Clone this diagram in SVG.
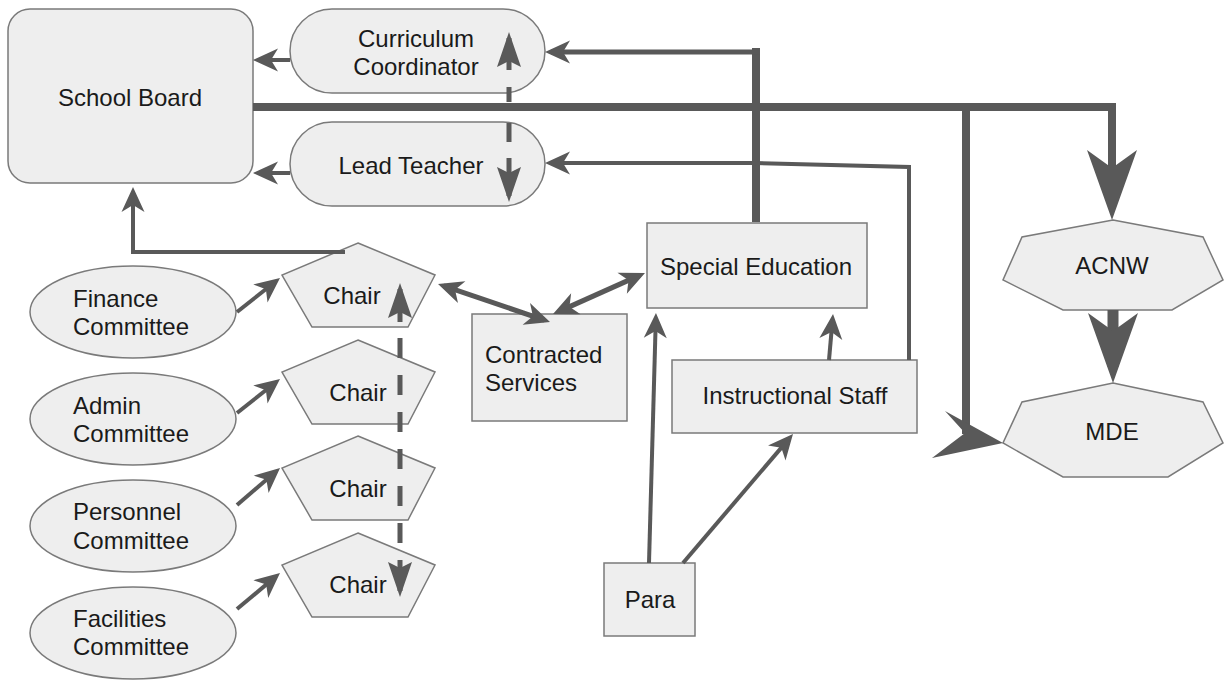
<svg xmlns="http://www.w3.org/2000/svg" width="1225" height="682" viewBox="0 0 1225 682">
<style>
.n{fill:#eeeeee;stroke:#7a7a7a;stroke-width:1.5}
.t{font-family:"Liberation Sans",Arial,sans-serif;font-size:24px;fill:#1a1a1a}
.c{text-anchor:middle}
.l{fill:none;stroke:#595959;stroke-linejoin:miter}
.w4{stroke-width:4}
.w5{stroke-width:5}
.w8{stroke-width:8}
</style>
<defs>
<marker id="a" markerUnits="userSpaceOnUse" viewBox="-20 -12 28 24" markerWidth="28" markerHeight="24" refX="0" refY="0" orient="auto-start-reverse" overflow="visible">
<path d="M6,0 L-19,-11.5 L-12,0 L-19,11.5 Z" fill="#595959"/>
</marker>
<marker id="c" markerUnits="userSpaceOnUse" viewBox="-32 -13 40 26" markerWidth="40" markerHeight="26" refX="0" refY="0" orient="auto-start-reverse" overflow="visible">
<path d="M6,0 L-29,-12 L-23,0 L-29,12 Z" fill="#595959"/>
</marker>
<marker id="b" markerUnits="userSpaceOnUse" viewBox="-60 -26 80 52" markerWidth="80" markerHeight="52" refX="0" refY="0" orient="auto" overflow="visible">
<path d="M16,0 L-54,-25 L-36,0 L-54,25 Z" fill="#595959"/>
</marker>
</defs>

<g id="school-board">
<rect class="n" x="8" y="9" width="245" height="174" rx="22"/>
<text class="t c" x="130" y="106">School Board</text>
</g>
<g id="curriculum-coordinator">
<rect class="n" x="290" y="9" width="255" height="84" rx="42"/>
<text class="t c" x="416" y="47">Curriculum</text>
<text class="t c" x="416" y="75">Coordinator</text>
</g>
<g id="lead-teacher">
<rect class="n" x="290" y="122" width="255" height="84" rx="42"/>
<text class="t c" x="411" y="174">Lead Teacher</text>
</g>

<g id="finance-committee">
<ellipse class="n" cx="133" cy="312" rx="103" ry="46"/>
<text class="t" x="73" y="307">Finance</text>
<text class="t" x="73" y="335">Committee</text>
</g>
<g id="admin-committee">
<ellipse class="n" cx="133" cy="419" rx="103" ry="46"/>
<text class="t" x="73" y="414">Admin</text>
<text class="t" x="73" y="442">Committee</text>
</g>
<g id="personnel-committee">
<ellipse class="n" cx="133" cy="526" rx="103" ry="46"/>
<text class="t" x="73" y="520">Personnel</text>
<text class="t" x="73" y="549">Committee</text>
</g>
<g id="facilities-committee">
<ellipse class="n" cx="133" cy="633" rx="103" ry="46"/>
<text class="t" x="73" y="627">Facilities</text>
<text class="t" x="73" y="655">Committee</text>
</g>

<g id="chair-1">
<polygon class="n" points="358,243 435,275 408,327 312,327 282,275"/>
<text class="t c" x="352" y="304">Chair</text>
</g>
<g id="chair-2">
<polygon class="n" points="358,340 435,372 408,424 312,424 282,372"/>
<text class="t c" x="358" y="401">Chair</text>
</g>
<g id="chair-3">
<polygon class="n" points="358,436 435,468 408,520 312,520 282,468"/>
<text class="t c" x="358" y="497">Chair</text>
</g>
<g id="chair-4">
<polygon class="n" points="358,533 435,565 408,617 312,617 282,565"/>
<text class="t c" x="358" y="593">Chair</text>
</g>

<g id="contracted-services">
<rect class="n" x="472" y="314" width="155" height="107"/>
<text class="t" x="485" y="363">Contracted</text>
<text class="t" x="485" y="391">Services</text>
</g>
<g id="special-education">
<rect class="n" x="647" y="223" width="220" height="85"/>
<text class="t c" x="756" y="275">Special Education</text>
</g>
<g id="instructional-staff">
<rect class="n" x="672" y="360" width="245" height="73"/>
<text class="t c" x="795" y="404">Instructional Staff</text>
</g>
<g id="para">
<rect class="n" x="604" y="563" width="91" height="73"/>
<text class="t c" x="650" y="608">Para</text>
</g>
<g id="acnw">
<polygon class="n" points="1113,220 1203,237 1223,280 1172,310 1063,310 1003,280 1022,237"/>
<text class="t c" x="1112" y="274">ACNW</text>
</g>
<g id="mde">
<polygon class="n" points="1113,383 1203,402 1223,443 1168,477 1063,477 1003,443 1022,402"/>
<text class="t c" x="1112" y="440">MDE</text>
</g>

<g id="connectors">
<line class="l w4" x1="290" y1="60" x2="259" y2="60" marker-end="url(#a)"/>
<line class="l w4" x1="290" y1="173" x2="259" y2="173" marker-end="url(#a)"/>
<line class="l w8" x1="756" y1="222" x2="756" y2="48"/>
<line class="l w5" x1="760" y1="52" x2="551" y2="52" marker-end="url(#a)"/>
<path class="l w4" d="M909,360 L909,167 L754,163 L551,163" marker-end="url(#a)"/>
<path class="l w8" d="M253,107 L1112,107 L1112,204" marker-end="url(#b)"/>
<line class="l w5" x1="509" y1="38" x2="509" y2="196" stroke-dasharray="32 17 15 21 19 16 40" marker-start="url(#c)" marker-end="url(#c)"/>
<line class="l w8" x1="966" y1="107" x2="966" y2="434"/>
<polygon points="1003,443 945,411 965,433 932,458" fill="#595959"/>
<line class="l" style="stroke-width:11" x1="1113" y1="310" x2="1113" y2="367" marker-end="url(#b)"/>
<path class="l w4" d="M345,252 L133,252 L133,193" marker-end="url(#a)"/>
<line class="l w4" x1="237" y1="312" x2="275.3" y2="281.7" marker-end="url(#a)"/>
<line class="l w4" x1="237" y1="413" x2="275.3" y2="382.7" marker-end="url(#a)"/>
<line class="l w4" x1="237" y1="505" x2="275.5" y2="471.9" marker-end="url(#a)"/>
<line class="l w4" x1="237" y1="609" x2="275.4" y2="576.9" marker-end="url(#a)"/>
<line class="l w5" x1="400" y1="289" x2="400" y2="591" stroke-dasharray="33 16 20 17 20 17 20 17 20 17 20 17 20 17 40" marker-start="url(#c)" marker-end="url(#c)"/>
<line class="l w5" x1="443.7" y1="285.9" x2="544.3" y2="320.1" marker-start="url(#a)" marker-end="url(#a)"/>
<line class="l w5" x1="558.5" y1="311.6" x2="639.5" y2="275.4" marker-start="url(#a)" marker-end="url(#a)"/>
<line class="l w4" x1="649" y1="563" x2="655.8" y2="319" marker-end="url(#a)"/>
<line class="l w4" x1="683" y1="563" x2="789.1" y2="438.6" marker-end="url(#a)"/>
<line class="l w4" x1="829" y1="360" x2="832.5" y2="320" marker-end="url(#a)"/>
</g>
</svg>
